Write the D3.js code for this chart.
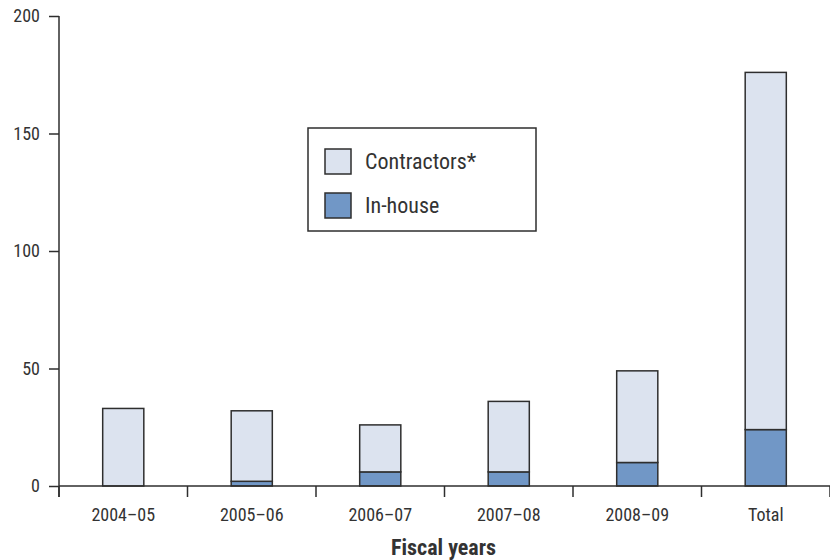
<!DOCTYPE html>
<html>
<head>
<meta charset="utf-8">
<script src="https://cdn.jsdelivr.net/npm/d3@7"></script>
<style>
  body { margin: 0; background: #fff; }
  text { font-family: "Roboto Condensed", "Liberation Sans Narrow", "Arial Narrow", sans-serif; fill: #333; }
</style>
</head>
<body>
<div id="chart"></div>
<script>
const categories = ['2004\u201305', '2005\u201306', '2006\u201307', '2007\u201308', '2008\u201309', 'Total'];
const inHouse = [0, 2, 6, 6, 10, 24];
const contractors = [33, 30, 20, 30, 39, 152];
const yTicks = [0, 50, 100, 150, 200];
const seriesNames = ['Contractors*', 'In-house'];

const colors = {
  contractors: '#dce3ef',
  inHouse: '#7197c6',
  stroke: '#2e2e2e',
};

const fontStack = '"Roboto Condensed", "Liberation Sans Narrow", "Arial Narrow", sans-serif';

const svgWidth = 830, svgHeight = 560;
const leftMargin = 59, rightMargin = 0, topMargin = 16, bottomMargin = 74;
const graphWidth = svgWidth - leftMargin - rightMargin;
const graphHeight = svgHeight - topMargin - bottomMargin;

const svg = d3.select('#chart').append('svg')
  .attr('width', svgWidth)
  .attr('height', svgHeight);

const g = svg.append('g').attr('transform', `translate(${leftMargin},${topMargin})`);

const xScale = d3.scaleBand()
  .domain(categories)
  .range([0, graphWidth])
  .paddingInner(0.68)
  .paddingOuter(0.34);

const yScale = d3.scaleLinear()
  .domain([0, 200])
  .range([graphHeight, 0]);

// bars
const rows = categories.map((c, i) => ({cat: c, inHouse: inHouse[i], contractors: contractors[i]}));
const stack = d3.stack().keys(['inHouse', 'contractors'])(rows);

g.append('g').selectAll('g')
  .data(stack)
  .join('g')
    .attr('fill', d => colors[d.key])
  .selectAll('rect')
  .data(d => d.filter(p => p[1] - p[0] > 0))
  .join('rect')
    .attr('x', d => xScale(d.data.cat))
    .attr('width', xScale.bandwidth())
    .attr('y', d => yScale(d[1]))
    .attr('height', d => yScale(d[0]) - yScale(d[1]))
    .attr('stroke', colors.stroke)
    .attr('stroke-width', 1.5);

// x axis: line across with ticks at band boundaries
const xAxisG = g.append('g').attr('transform', `translate(0,${graphHeight})`);
xAxisG.append('line')
  .attr('x1', 0).attr('x2', graphWidth)
  .attr('stroke', colors.stroke).attr('stroke-width', 1.5);
const bounds = d3.range(categories.length + 1).map(i => i * graphWidth / categories.length);
xAxisG.selectAll('.xtick')
  .data(bounds)
  .join('line')
    .attr('class', 'xtick')
    .attr('x1', d => d).attr('x2', d => d)
    .attr('y1', 0).attr('y2', 11)
    .attr('stroke', colors.stroke).attr('stroke-width', 1.5);
xAxisG.selectAll('.xlabel')
  .data(categories)
  .join('text')
    .attr('class', 'xlabel')
    .attr('x', d => xScale(d) + xScale.bandwidth() / 2)
    .attr('y', 35)
    .attr('text-anchor', 'middle')
    .attr('font-size', 18)
    .text(d => d);

// y axis
const yAxis = d3.axisLeft(yScale).tickValues(yTicks).tickSize(10).tickPadding(9);
const yAxisG = g.append('g').call(yAxis);
yAxisG.select('.domain').remove();
yAxisG.selectAll('.tick line').attr('stroke', colors.stroke).attr('stroke-width', 1.5);
yAxisG.selectAll('.tick text')
  .attr('font-size', 18)
  .attr('fill', '#333')
  .style('font-family', fontStack);
yAxisG.append('line')
  .attr('x1', 0).attr('x2', 0)
  .attr('y1', yScale(200)).attr('y2', graphHeight + 11)
  .attr('stroke', colors.stroke).attr('stroke-width', 1.5);

// axis title
svg.append('text')
  .attr('x', leftMargin + graphWidth / 2 - 1)
  .attr('y', 555)
  .attr('text-anchor', 'middle')
  .attr('font-size', 22)
  .attr('font-weight', 'bold')
  .text('Fiscal years');

// legend
const legend = svg.append('g').attr('transform', 'translate(308,128)');
legend.append('rect')
  .attr('width', 228).attr('height', 103)
  .attr('fill', '#fff')
  .attr('stroke', colors.stroke).attr('stroke-width', 1.5);
const legendItems = legend.selectAll('.item')
  .data(seriesNames)
  .join('g')
    .attr('class', 'item')
    .attr('transform', (d, i) => `translate(17,${21 + i * 44})`);
legendItems.append('rect')
  .attr('width', 26).attr('height', 25)
  .attr('fill', (d, i) => i === 0 ? colors.contractors : colors.inHouse)
  .attr('stroke', colors.stroke).attr('stroke-width', 1.5);
legendItems.append('text')
  .attr('x', 40).attr('y', 20)
  .attr('font-size', 22)
  .text(d => d);
</script>
</body>
</html>
